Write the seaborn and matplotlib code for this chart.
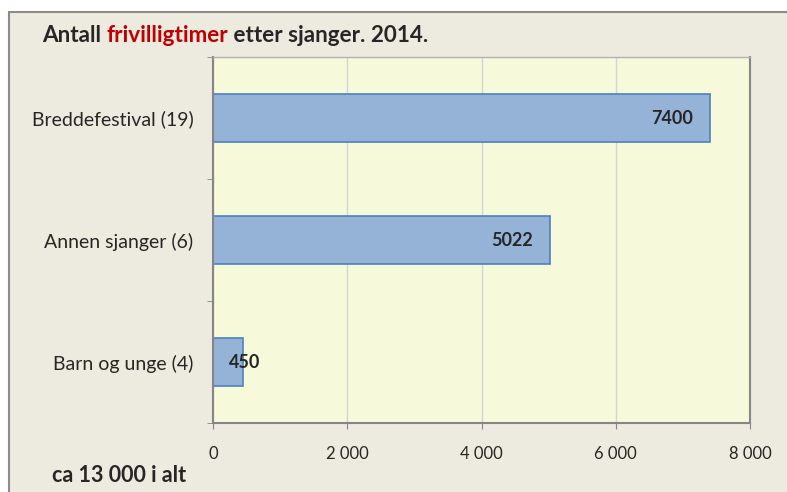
import pandas as pd
import seaborn as sns
import matplotlib.pyplot as plt
from matplotlib.patches import Rectangle
from matplotlib.ticker import FixedLocator

# Data
categories = ["Breddefestival (19)", "Annen sjanger (6)", "Barn og unge (4)"]
hours = [7400, 5022, 450]
x_ticks = [0, 2000, 4000, 6000, 8000]
x_tick_labels = ["0", "2 000", "4 000", "6 000", "8 000"]

df = pd.DataFrame({"Sjanger": categories, "Timer": hours})

sns.set_style("white")
plt.rcParams["font.family"] = ["Lato", "DejaVu Sans"]

fig = plt.figure(figsize=(7.87, 4.92), dpi=100)
fig.patch.set_facecolor("white")
# outer chart frame
fig.patches.append(Rectangle((9 / 787, -0.05), 1.0, 1 - 12 / 492 + 0.05,
                             transform=fig.transFigure, facecolor="#EDEBE0",
                             edgecolor="#8C8C8C", linewidth=1.5, zorder=-5))

ax = fig.add_axes([213 / 787, 1 - 423 / 492, (750 - 213) / 787, (423 - 57) / 492])
ax.set_facecolor("#F6F9DA")

sns.barplot(data=df, x="Timer", y="Sjanger", orient="h", width=0.4,
            color="#95B3D7", edgecolor="#4F81BD", linewidth=1.2, saturation=1, ax=ax)

ax.set_xlim(0, 8000)
ax.set_ylim(2.5, -0.5)
ax.set_xticks(x_ticks)
ax.set_xticklabels(x_tick_labels, fontsize=12)
ax.xaxis.grid(True, color="#D4D4D4", linewidth=1)
ax.set_axisbelow(True)
ax.set_xlabel("")
ax.set_ylabel("")

ax.yaxis.set_minor_locator(FixedLocator([-0.5, 0.5, 1.5, 2.5]))
ax.tick_params(axis="y", which="major", length=0, pad=14, labelsize=14)
ax.tick_params(axis="y", which="minor", length=4.5, color="#868686", direction="out", left=True)
ax.tick_params(axis="x", length=4.5, color="#868686", direction="out", pad=12, bottom=True)

for side, sp in ax.spines.items():
    sp.set_color("#868686")
    sp.set_linewidth(1.5)
ax.spines["top"].set_color("#B0B0B0")
ax.spines["top"].set_linewidth(1)

# value labels (inside end; small bar label pushed past the bar)
for bar, val in zip(ax.patches, hours):
    y = bar.get_y() + bar.get_height() / 2
    if val < 1000:
        ax.annotate(f"{val}", (val, y), xytext=(-14, 0), textcoords="offset pixels",
                    ha="left", va="center", fontsize=13, fontweight="bold")
    else:
        ax.annotate(f"{val}", (val, y), xytext=(-17, 0), textcoords="offset pixels",
                    ha="right", va="center", fontsize=13, fontweight="bold")

# title with coloured word
t1 = fig.text(42 / 787, 1 - 35 / 492, "Antall ", fontsize=16.2, fontweight="bold",
              va="center", ha="left")
a2 = ax.annotate("frivilligtimer", xy=(1, 0), xycoords=t1, va="bottom", ha="left",
                 fontsize=16.2, fontweight="bold", color="#C00000", annotation_clip=False)
ax.annotate(" etter sjanger. 2014.", xy=(1, 0), xycoords=a2, va="bottom", ha="left",
            fontsize=16.2, fontweight="bold", annotation_clip=False)

fig.text(52 / 787, 1 - 476 / 492, "ca 13 000 i alt", fontsize=15.5, fontweight="bold",
         va="center", ha="left")

plt.savefig("out.png", dpi=100)
plt.close()
